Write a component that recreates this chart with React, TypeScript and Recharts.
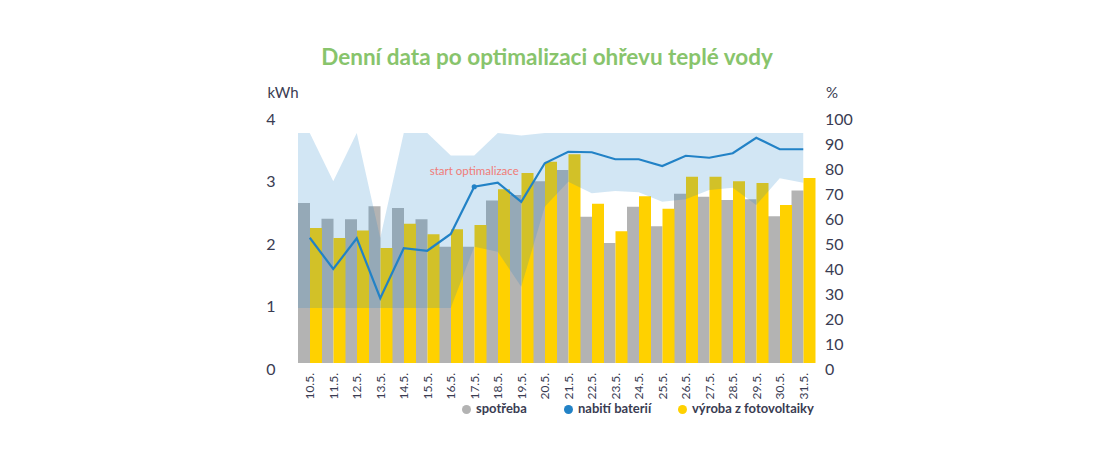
import React from 'react';
import { ComposedChart, Bar, Line, Area, XAxis, YAxis, ReferenceDot } from 'recharts';

const categories = ['10.5.', '11.5.', '12.5.', '13.5.', '14.5.', '15.5.', '16.5.', '17.5.', '18.5.', '19.5.', '20.5.', '21.5.', '22.5.', '23.5.', '24.5.', '25.5.', '26.5.', '27.5.', '28.5.', '29.5.', '30.5.', '31.5.'];
const spotreba = [2.56, 2.31, 2.30, 2.51, 2.48, 2.30, 1.86, 1.86, 2.60, 2.69, 2.91, 3.09, 2.34, 1.92, 2.50, 2.19, 2.71, 2.66, 2.61, 2.62, 2.35, 2.76];
const vyroba = [2.16, 2.00, 2.12, 1.84, 2.23, 2.06, 2.14, 2.21, 2.78, 3.04, 3.22, 3.34, 2.55, 2.11, 2.67, 2.47, 2.98, 2.98, 2.91, 2.88, 2.53, 2.96];
const baterie = [50.1, 37.6, 49.9, 25.9, 45.9, 44.9, 51.6, 70.5, 72.1, 64.5, 79.9, 84.5, 84.3, 81.5, 81.5, 78.8, 82.9, 82.1, 83.9, 90.1, 85.5, 85.5];
const bandHigh = [92, 72.7, 92, 50, 92, 92, 83, 83, 92, 91, 92, 92, 92, 92, 92, 92, 92, 92, 92, 92, 92, 92];
const bandLow = [22, 22, 22, 22, 22, 22, 22, 46.5, 44.5, 30.5, 62.5, 72.5, 67.9, 68.8, 68.3, 64.5, 65.5, 69.2, 70.1, 63.2, 73.9, 72.1];
const leftTicks = [0, 1, 2, 3, 4];
const rightTicks = [0, 10, 20, 30, 40, 50, 60, 70, 80, 90, 100];
const startLabel = 'start optimalizace';
const startCategory = '17.5.';
const startLabelValue = 77;

const title = 'Denní data po optimalizaci ohřevu teplé vody';
const seriesNames = { spotreba: 'spotřeba', baterie: 'nabití baterií', vyroba: 'výroba z fotovoltaiky' };

const COLORS = {
  gray: '#b3b3b3',
  yellow: '#ffd100',
  blue: '#2282c6',
  band: '#1f80c6',
  title: '#88c46c',
  text: '#3a3c52',
  start: '#f07c78',
};

const data = categories.map((c, i) => ({
  name: c,
  spotreba: spotreba[i],
  vyroba: vyroba[i],
  baterie: baterie[i],
}));

// The shaded band begins at the left edge of the plot (start of the first category)
const bandData = [
  { pos: -0.5, band: [bandLow[0], bandHigh[0]] },
  ...categories.map((c, i) => ({ pos: i, band: [bandLow[i], bandHigh[i]] })),
];

const startIndex = categories.indexOf(startCategory);
const FONT = 'Lato, "Open Sans", sans-serif';

const XTick = (props: any) => {
  const { x, y, payload } = props;
  const ty = y + 2;
  return (
    <text x={x} y={ty} transform={`rotate(-90 ${x} ${ty})`} textAnchor="end" dominantBaseline="central" fontSize={12} fill={COLORS.text} fontFamily={FONT}>
      {payload.value}
    </text>
  );
};

const LeftTick = (props: any) => {
  const { y, payload } = props;
  return (
    <text x={263} y={y + 5} textAnchor="middle" dominantBaseline="central" fontSize={16} fill={COLORS.text} fontFamily={FONT}>
      {payload.value}
    </text>
  );
};

const RightTick = (props: any) => {
  const { y, payload } = props;
  return (
    <text x={817} y={y + 5} textAnchor="start" dominantBaseline="central" fontSize={16} fill={COLORS.text} fontFamily={FONT}>
      {payload.value}
    </text>
  );
};

const LineDot = (props: any) => {
  const { cx, cy, index } = props;
  if (index === startIndex) {
    return <circle key={`d${index}`} cx={cx} cy={cy} r={2.6} fill={COLORS.blue} />;
  }
  return <g key={`d${index}`} />;
};

const legendItems = [
  { label: seriesNames.spotreba, color: COLORS.gray, left: 454 },
  { label: seriesNames.baterie, color: COLORS.blue, left: 556 },
  { label: seriesNames.vyroba, color: COLORS.yellow, left: 670 },
];

export default function App() {
  return (
    <div style={{ position: 'relative', width: 1078, height: 440, fontFamily: FONT }}>
      <div style={{ position: 'absolute', left: 0, top: 34, width: 1078, textAlign: 'center', fontSize: 22.5, lineHeight: '30px', fontWeight: 700, color: COLORS.title }}>
        {title}
      </div>
      <div style={{ position: 'absolute', left: 255, top: 74, width: 40, textAlign: 'center', fontSize: 15, lineHeight: '20px', color: COLORS.text }}>kWh</div>
      <div style={{ position: 'absolute', left: 814, top: 74, width: 20, textAlign: 'center', fontSize: 15, lineHeight: '20px', color: COLORS.text }}>%</div>
      <ComposedChart width={1078} height={440} data={data} margin={{ top: 105, right: 231, bottom: 45, left: 250 }} barCategoryGap={0} barGap={0}>
        <XAxis dataKey="name" axisLine={false} tickLine={false} height={40} interval={0} tick={<XTick />} />
        <XAxis xAxisId="band" dataKey="pos" type="number" domain={[-0.5, categories.length - 0.5]} hide />
        <YAxis yAxisId="left" domain={[0, 4]} ticks={leftTicks} axisLine={false} tickLine={false} width={40} tick={<LeftTick />} />
        <YAxis yAxisId="right" orientation="right" domain={[0, 100]} ticks={rightTicks} axisLine={false} tickLine={false} width={40} tick={<RightTick />} />
        <Bar yAxisId="left" dataKey="spotreba" fill={COLORS.gray} isAnimationActive={false} />
        <Bar yAxisId="left" dataKey="vyroba" fill={COLORS.yellow} isAnimationActive={false} />
        <Area xAxisId="band" yAxisId="right" data={bandData} dataKey="band" type="linear" stroke="none" fill={COLORS.band} fillOpacity={0.2} isAnimationActive={false} zIndex={350} />
        <Line yAxisId="right" dataKey="baterie" type="linear" stroke={COLORS.blue} strokeWidth={2.2} dot={LineDot} activeDot={false} isAnimationActive={false} />
        <ReferenceDot yAxisId="right" x={startCategory} y={startLabelValue} r={0} fill="none" stroke="none"
          label={{ value: startLabel, position: 'center', fill: COLORS.start, fontSize: 11.5, fontFamily: FONT }} />
      </ComposedChart>
      {legendItems.map((it) => (
        <div key={it.label} style={{ position: 'absolute', top: 392, left: it.left, display: 'flex', alignItems: 'center', fontSize: 13, fontWeight: 700, color: COLORS.text, lineHeight: '16px' }}>
          <span style={{ display: 'inline-block', width: 9, height: 9, borderRadius: '50%', background: it.color, marginRight: 5, marginTop: 2 }} />
          {it.label}
        </div>
      ))}
    </div>
  );
}
